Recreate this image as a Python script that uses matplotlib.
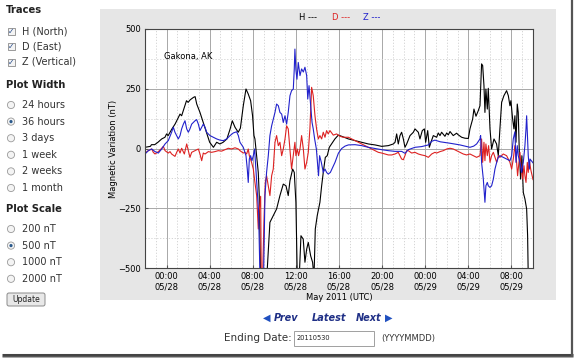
import pandas as pd
import matplotlib
matplotlib.use("Agg")
import matplotlib.pyplot as plt
import matplotlib.dates as mdates
from matplotlib.patches import Rectangle, Circle, FancyBboxPatch

# hours after 2011-05-28 00:00 UTC, magnetic variation in nT
h_points = [
    (-2.0, 5), (-1.5, 9), (-1.4, 16), (-1.1, 16), (-0.8, 26), (-0.45, 40), (-0.15, 47), (0.0, 61),
    (0.15, 54), (0.5, 82), (0.8, 103), (1.1, 130), (1.25, 144), (1.4, 137), (1.7, 179), (1.85, 200),
    (2.0, 193), (2.2, 204), (2.5, 214), (2.65, 217), (2.8, 186), (3.1, 151), (3.4, 109), (3.7, 68),
    (4.0, 26), (4.35, 5), (4.65, 26), (4.95, 19), (5.25, 26), (5.6, 40), (5.9, 82), (6.1, 116),
    (6.35, 89), (6.65, 68), (6.85, 85), (7.12, 179), (7.37, 249), (7.58, 228), (7.8, 200), (7.98, 137),
    (8.11, 54), (8.2, 40), (8.36, -30), (8.51, -100), (8.6, -197), (8.73, -540), (9.3, -540), (9.45, -420),
    (9.59, -309), (9.9, -281), (10.21, -253), (10.52, -197), (10.83, -149), (11.08, -156), (11.29, -197),
    (11.45, -135), (11.7, -86), (11.85, -100), (12.0, -225), (12.13, -540), (12.31, -540), (12.47, -365),
    (12.68, -379), (12.84, -476), (13.0, -421), (13.15, -393), (13.37, -449), (13.55, -476), (13.68, -540),
    (13.8, -337), (13.98, -281), (14.23, -225), (14.39, -156), (14.54, -100), (14.73, -37), (14.91, -30),
    (15.1, 5), (15.31, 19), (15.62, 40), (15.94, 56), (16.25, 51), (16.87, 40), (17.49, 33), (18.1, 26),
    (18.72, 19), (19.34, 15), (19.96, 9), (20.58, 12), (21.04, 19), (21.2, 26), (21.35, 61), (21.5, 19),
    (21.66, 54), (21.81, 68), (21.97, 40), (22.12, 5), (22.28, 19), (22.59, 54), (22.9, 68), (23.05, 82),
    (23.36, 68), (23.51, 40), (23.73, 75), (23.92, 82), (24.04, 26), (24.23, 75), (24.38, 5), (24.53, 26),
    (24.75, 54), (25.06, 47), (25.21, 65), (25.37, 54), (25.52, 68), (25.83, 51), (25.99, 65), (26.14, 57),
    (26.3, 71), (26.6, 54), (26.91, 64), (27.07, 57), (27.38, 47), (27.69, 43), (28.0, 42), (28.15, 82),
    (28.4, 123), (28.52, 165), (28.71, 135), (28.92, 158), (29.08, 179), (29.23, 354), (29.33, 347),
    (29.45, 263), (29.54, 151), (29.63, 249), (29.76, 165), (29.85, 252), (30.01, 82), (30.16, -2),
    (30.38, 40), (30.62, 19), (30.78, -30), (30.93, 82), (31.09, 193), (31.3, 221), (31.55, 242),
    (31.71, 221), (31.86, 179), (31.95, 200), (32.11, 123), (32.23, 82), (32.32, 137), (32.42, 26),
    (32.54, 186), (32.63, 151), (32.73, -16), (32.85, -128), (32.97, -30), (33.1, -184), (33.25, -211),
    (33.41, -253), (33.5, -365), (33.56, -540), (34.0, -540),
]

d_points = [
    (-2.0, -19), (-1.69, -9), (-1.38, -2), (-1.23, -16), (-1.07, -23), (-0.76, -13), (-0.45, 1), (-0.3, 9),
    (-0.14, -9), (0.16, -19), (0.32, -13), (0.47, -23), (0.78, -33), (0.94, -16), (1.09, -2), (1.25, -19),
    (1.4, 1), (1.65, -23), (1.87, 19), (2.02, -9), (2.17, -37), (2.33, -16), (2.64, -9), (2.95, -2),
    (3.1, -23), (3.26, -51), (3.41, -19), (3.57, -23), (3.88, -13), (4.18, -16), (4.49, -13), (4.8, -9),
    (5.11, -11), (5.42, -5), (5.73, 1), (6.04, -2), (6.35, 3), (6.66, -2), (6.81, -9), (7.12, -19),
    (7.27, -16), (7.43, -23), (7.58, -2), (7.68, -30), (7.89, -58), (8.05, -86), (8.2, -142), (8.36, -197),
    (8.42, -250), (8.51, -337), (8.6, -260), (8.73, -200), (8.79, -540), (8.91, -540), (9.04, -300),
    (9.16, -142), (9.28, -114), (9.44, -156), (9.59, -197), (9.75, -114), (9.9, -86), (10.06, 26),
    (10.21, 54), (10.37, 12), (10.52, 26), (10.68, -30), (10.83, -2), (10.99, 40), (11.14, 95), (11.29, 82),
    (11.45, -2), (11.6, -86), (11.76, -30), (11.91, 26), (12.0, -30), (12.13, -2), (12.25, -30), (12.38, -2),
    (12.53, 54), (12.69, -2), (12.84, -86), (13.0, -58), (13.15, -16), (13.3, 82), (13.46, 256),
    (13.61, 221), (13.77, 137), (13.92, 82), (14.08, 40), (14.23, 54), (14.39, 40), (14.54, 68), (14.7, 47),
    (14.85, 75), (15.0, 61), (15.16, 75), (15.47, 56), (15.78, 61), (16.09, 51), (16.4, 47), (16.87, 47),
    (17.18, 40), (17.49, 33), (17.79, 26), (18.1, 19), (18.41, 12), (18.72, 5), (19.03, -2), (19.34, -9),
    (19.65, -16), (19.96, -19), (20.27, -23), (20.58, -27), (20.89, -27), (21.2, -23), (21.5, -16),
    (21.66, -30), (21.81, -44), (21.97, -47), (22.12, -30), (22.28, -9), (22.43, -9), (22.74, -19),
    (23.05, -16), (23.36, -23), (23.67, -27), (23.98, -30), (24.29, -37), (24.6, -23), (24.9, -16),
    (25.06, -19), (25.37, -13), (25.68, -9), (25.99, -2), (26.3, 1), (26.6, -2), (26.91, -9), (27.22, -16),
    (27.53, -23), (27.84, -27), (28.15, -23), (28.46, -30), (28.77, -37), (29.08, -30), (29.23, 40),
    (29.33, -58), (29.45, 26), (29.54, -51), (29.63, 19), (29.76, -30), (29.88, 12), (30.01, -58),
    (30.16, -30), (30.32, -16), (30.47, -37), (30.63, -58), (30.78, -30), (30.93, -37), (31.24, -23),
    (31.55, -30), (31.86, -58), (32.02, -86), (32.17, -44), (32.32, 12), (32.48, -58), (32.57, -114),
    (32.66, -72), (32.79, -16), (32.91, -86), (33.04, -128), (33.16, -72), (33.25, -114), (33.35, -142),
    (33.47, -58), (33.56, -100), (33.66, -51), (33.8, -90), (34.0, -130),
]

z_points = [
    (-2.0, -23), (-1.69, -9), (-1.38, -2), (-1.07, -13), (-0.76, -19), (-0.45, -2), (-0.14, 19), (0.16, 33),
    (0.47, 68), (0.63, 89), (0.78, 68), (1.09, 40), (1.25, 54), (1.4, 82), (1.56, 102), (1.71, 116),
    (1.87, 82), (2.02, 68), (2.17, 82), (2.33, 102), (2.48, 109), (2.64, 116), (2.79, 121), (2.95, 102),
    (3.1, 75), (3.26, 89), (3.41, 102), (3.57, 89), (3.72, 68), (4.03, 54), (4.34, 47), (4.65, 40),
    (4.96, 35), (5.27, 33), (5.58, 40), (5.89, 54), (6.19, 65), (6.5, 70), (6.66, 54), (6.81, 26),
    (7.12, 5), (7.37, -30), (7.49, -86), (7.58, -142), (7.68, -44), (7.8, -30), (7.92, -51), (8.05, -30),
    (8.17, -2), (8.29, -86), (8.42, -170), (8.54, -267), (8.67, -540), (9.0, -540), (9.13, -197),
    (9.28, -100), (9.44, -30), (9.59, 54), (9.75, 95), (9.9, 123), (10.06, 151), (10.21, 186), (10.37, 179),
    (10.52, 151), (10.68, 144), (10.83, 109), (10.99, 137), (11.14, 102), (11.29, 151), (11.45, 221),
    (11.6, 242), (11.76, 249), (11.85, 333), (11.91, 416), (12.0, 330), (12.1, 290), (12.22, 360),
    (12.38, 305), (12.53, 333), (12.69, 320), (12.84, 340), (13.0, 305), (13.1, 207), (13.22, 263),
    (13.37, 179), (13.5, 109), (13.61, 82), (13.74, 40), (13.9, -2), (14.0, -58), (14.1, -114),
    (14.2, -30), (14.36, -58), (14.54, -100), (14.7, -86), (14.85, -100), (15.0, -107), (15.2, -100),
    (15.4, -80), (15.63, -58), (15.94, -20), (16.25, 0), (16.56, 10), (16.87, 15), (17.49, 16), (18.1, 12),
    (18.72, 5), (19.34, 0), (19.96, -5), (20.58, -9), (21.2, -12), (21.81, -12), (22.12, -20), (22.43, -5),
    (23.05, 5), (23.67, 8), (24.29, 15), (24.6, 30), (24.9, 35), (25.4, 28), (26.3, 22), (27.22, 15),
    (28.15, 5), (28.5, 10), (28.77, 19), (29.08, 40), (29.14, 54), (29.23, -58), (29.39, -128),
    (29.54, -225), (29.63, -156), (29.76, -142), (29.85, -156), (30.01, -163), (30.16, -156), (30.32, -128),
    (30.47, -86), (30.63, -58), (30.78, -37), (30.93, -30), (31.24, -37), (31.55, -44), (31.86, -51),
    (32.02, -30), (32.17, 40), (32.32, 70), (32.42, -58), (32.54, 12), (32.63, -30), (32.79, -58),
    (32.94, -100), (33.1, -58), (33.25, 12), (33.35, 82), (33.41, 137), (33.5, 40), (33.56, -30),
    (33.66, -86), (33.72, -44), (34.0, -60),
]

trace_labels = ["H (North)", "D (East)", "Z (Vertical)"]
width_options = ["24 hours", "36 hours", "3 days", "1 week", "2 weeks", "1 month"]
scale_options = ["200 nT", "500 nT", "1000 nT", "2000 nT"]
y_ticks = [-500, -250, 0, 250, 500]

start = pd.Timestamp("2011-05-28 00:00")


def to_series(points):
    t = [(start + pd.Timedelta(hours=h)).to_pydatetime() for h, _ in points]
    v = [val for _, val in points]
    return t, v


W, H = 574, 358
fig = plt.figure(figsize=(W / 100, H / 100), dpi=100)
fig.patch.set_facecolor("white")

# page background drawn in pixel coords
bg = fig.add_axes([0, 0, 1, 1], zorder=0)
bg.set_xlim(0, W)
bg.set_ylim(H, 0)
bg.axis("off")

bg.add_patch(Rectangle((100, 9), 456, 291, facecolor="#e6e6e6", edgecolor="none"))

# shadow border of the screenshot
bg.plot([2, 573], [355, 355], color="#444444", lw=2.2, solid_capstyle="butt")
bg.plot([2, 573], [357, 357], color="#aaaaaa", lw=1.0, solid_capstyle="butt")
bg.plot([571.5, 571.5], [0, 356], color="#555555", lw=1.6, solid_capstyle="butt")

# left form
head = dict(fontsize=7.2, weight="bold", va="center", color="#222222")
bg.text(6, 10, "Traces", **head)
for i, lab in enumerate(trace_labels):
    y = 31 + i * 15.5
    bg.add_patch(Rectangle((7.5, y - 3.5), 7, 7, facecolor="#f4f4f4", edgecolor="#8a8a8a", lw=0.6))
    bg.text(11, y + 0.3, "\u2713", fontsize=5.5, ha="center", va="center", color="#2b4f8c")
    bg.text(22, y, lab, fontsize=7, va="center", color="#333333")

bg.text(6, 85, "Plot Width", **head)
for i, lab in enumerate(width_options):
    y = 105 + i * 16.6
    bg.add_patch(Circle((11, y), 3.6, facecolor="#f4f4f4", edgecolor="#9a9a9a", lw=0.6))
    if lab == "36 hours":
        bg.add_patch(Circle((11, y), 1.6, facecolor="#2b5a8c", edgecolor="none"))
    bg.text(22, y, lab, fontsize=7, va="center", color="#333333")

bg.text(6, 209, "Plot Scale", **head)
for i, lab in enumerate(scale_options):
    y = 229 + i * 16.6
    bg.add_patch(Circle((11, y), 3.6, facecolor="#f4f4f4", edgecolor="#9a9a9a", lw=0.6))
    if lab == "500 nT":
        bg.add_patch(Circle((11, y), 1.6, facecolor="#2b5a8c", edgecolor="none"))
    bg.text(22, y, lab, fontsize=7, va="center", color="#333333")

bg.add_patch(FancyBboxPatch((7, 293), 38, 13, boxstyle="round,pad=0,rounding_size=2",
                            facecolor="#e8e8e8", edgecolor="#8a8a8a", lw=0.7))
bg.text(26, 299.5, "Update", fontsize=5.5, ha="center", va="center", color="#222222")

# trace key at the top of the panel
bg.text(299, 17, "H ---", fontsize=6, va="center", color="black")
bg.text(332, 17, "D ---", fontsize=6, va="center", color="#dd2222")
bg.text(363, 17, "Z ---", fontsize=6, va="center", color="#2222cc")

# navigation below the chart
nav = dict(fontsize=7, weight="bold", style="italic", va="center", color="#1f2f86")
bg.text(267, 318, "\u25C0", fontsize=7, ha="center", va="center", color="#2050c0")
bg.text(274, 318, "Prev", **nav)
bg.text(312, 318, "Latest", **nav)
bg.text(356, 318, "Next", **nav)
bg.text(389, 318, "\u25B6", fontsize=7, ha="center", va="center", color="#2050c0")

bg.text(224, 338, "Ending Date:", fontsize=7.5, va="center", color="#333333")
bg.add_patch(Rectangle((294, 330.5), 80, 15, facecolor="white", edgecolor="#a0a0a0", lw=0.7))
bg.text(297, 338.5, "20110530", fontsize=4.8, va="center", color="#222222")
bg.text(381, 338, "(YYYYMMDD)", fontsize=6, va="center", color="#333333")

# chart
ax = fig.add_axes([145 / W, (H - 268) / H, 388 / W, 239 / H], zorder=1)
ax.set_facecolor("white")

ht, hv = to_series(h_points)
dt, dv = to_series(d_points)
zt, zv = to_series(z_points)
ax.plot(ht, hv, color="black", lw=0.8)
ax.plot(dt, dv, color="#dd2222", lw=0.8)
ax.plot(zt, zv, color="#2222cc", lw=0.8)

ax.set_xlim(start - pd.Timedelta(hours=2), start + pd.Timedelta(hours=34))
ax.set_ylim(-500, 500)
ax.set_yticks(y_ticks)
ax.set_yticklabels(["\u2212500", "\u2212250", "0", "250", "500"])
ax.set_yticks([-375, -125, 125, 375], minor=True)

ax.xaxis.set_major_locator(mdates.HourLocator(byhour=range(0, 24, 4)))
ax.xaxis.set_minor_locator(mdates.HourLocator())
ax.xaxis.set_major_formatter(mdates.DateFormatter("%H:%M\n%m/%d"))

ax.grid(which="major", color="#a8a8a8", lw=0.7, ls="-")
ax.grid(which="minor", color="#cfcfcf", lw=0.6, ls=(0, (1.5, 2)))
ax.set_axisbelow(True)

ax.tick_params(which="both", direction="in", length=2, color="#555555", labelsize=6, pad=3)
ax.tick_params(which="minor", length=0)
for sp in ax.spines.values():
    sp.set_color("#444444")
    sp.set_linewidth(0.8)

ax.set_ylabel("Magnetic Variation (nT)", fontsize=6, labelpad=0)
ax.set_xlabel("May 2011 (UTC)", fontsize=6, labelpad=1)
ax.text(0.05, 0.885, "Gakona, AK", transform=ax.transAxes, fontsize=6, va="center")

fig.savefig("out.png", dpi=100)
